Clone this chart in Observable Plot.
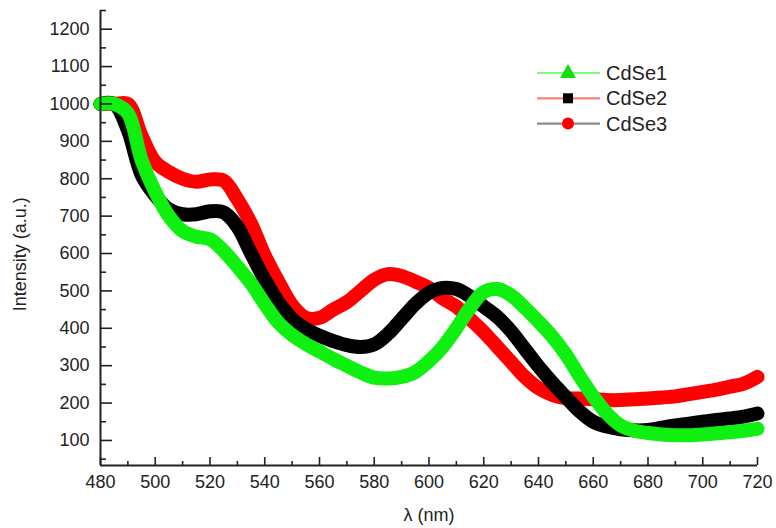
<!DOCTYPE html>
<html>
<head>
<meta charset="utf-8">
<script src="https://cdn.jsdelivr.net/npm/d3@7"></script>
<script src="https://cdn.jsdelivr.net/npm/@observablehq/plot@0.6"></script>
<style>
  html, body { margin: 0; padding: 0; background: #fff; }
  #wrap { position: relative; width: 776px; height: 528px; font-family: "Liberation Sans", Arial, sans-serif; }
  #legend { position: absolute; left: 0; top: 0; pointer-events: none; }
</style>
</head>
<body>
<div id="wrap"></div>
<script>
// Wavelength grid (nm)
const wavelength = [480,485,490,495,500,505,510,515,520,525,530,535,540,545,550,555,560,565,570,575,580,585,590,595,600,605,610,615,620,625,630,635,640,645,650,655,660,665,670,675,680,685,690,695,700,705,710,715,720];
// CdSe1 (green)
const cdse1 = [1000,1000,975,850,765,700,660,645,638,607,565,520,465,415,382,358,338,318,300,282,268,266,270,283,312,350,400,455,497,505,488,455,418,378,330,272,218,172,140,126,120,116,114,114,116,119,122,126,131];
// CdSe2 (black)
const cdse2 = [1000,1000,930,810,755,718,705,705,713,710,672,600,530,470,425,398,380,366,355,350,357,385,425,465,495,508,505,485,458,430,392,345,298,255,216,178,150,137,130,127,128,134,140,145,150,155,159,164,172];
// CdSe3 (red)
const cdse3 = [1000,1000,1000,915,845,818,800,792,798,795,745,680,595,525,462,428,428,450,470,500,530,545,540,525,508,480,458,425,390,350,310,270,240,222,213,212,210,208,208,210,212,215,218,224,230,236,244,252,270];

const seriesNames = ["CdSe1", "CdSe2", "CdSe3"];
const curveColors = ["#10f010", "#000000", "#ff0000"];
const legendLineColors = ["#7dff7d", "#ff8080", "#8c8c8c"];
const legendMarkerColors = ["#10e010", "#000000", "#ff0000"];

const xMajor = d3.range(480, 721, 20);
const xMinor = d3.range(490, 720, 20);
const yMajor = d3.range(100, 1201, 100);
const yMinor = d3.range(50, 1251, 100);

const W = 776, H = 528, mL = 100, mR = 19, mT = 10, mB = 63;
const pw = W - mL - mR, ph = H - mT - mB;

const rows = (vals, name) => wavelength.map((w, i) => ({w, v: vals[i], name}));

const chart = Plot.plot({
  width: W, height: H,
  marginLeft: mL, marginRight: mR, marginTop: mT, marginBottom: mB,
  style: { fontFamily: "Liberation Sans, Arial, sans-serif", fontSize: "18px", color: "#222", background: "#fff" },
  x: { domain: [480, 720] },
  y: { domain: [33, 1250] },
  marks: [
    Plot.line(rows(cdse3, "CdSe3"), {x: "w", y: "v", stroke: curveColors[2], strokeWidth: 14, curve: "catmull-rom"}),
    Plot.line(rows(cdse2, "CdSe2"), {x: "w", y: "v", stroke: curveColors[1], strokeWidth: 14, curve: "catmull-rom"}),
    Plot.line(rows(cdse1, "CdSe1"), {x: "w", y: "v", stroke: curveColors[0], strokeWidth: 14, curve: "catmull-rom"}),
    Plot.tickY(yMajor, {y: d => d, insetRight: pw - 12, stroke: "#222", strokeWidth: 1.6}),
    Plot.tickY(yMinor, {y: d => d, insetRight: pw - 6, stroke: "#222", strokeWidth: 1.6}),
    Plot.tickX(xMajor, {x: d => d, insetTop: ph - 8, stroke: "#222", strokeWidth: 1.6}),
    Plot.tickX(xMinor, {x: d => d, insetTop: ph - 4, stroke: "#222", strokeWidth: 1.6}),
    Plot.ruleX([480], {stroke: "#222", strokeWidth: 2}),
    Plot.ruleY([33], {stroke: "#222", strokeWidth: 2}),
    Plot.axisX({ticks: xMajor, tickSize: 0, tickPadding: 10, tickFormat: d => String(d), label: "λ (nm)", labelAnchor: "center", labelArrow: "none", labelOffset: 55}),
    Plot.axisY({ticks: yMajor, tickSize: 0, tickPadding: 11, tickFormat: d => String(d), label: null}),
    Plot.text(["Intensity (a.u.)"], {x: () => 480, y: () => 598, dx: -80, rotate: -90, fontSize: 18, fill: "#222"})
  ]
});

const wrap = document.getElementById("wrap");
wrap.appendChild(chart);

// Legend overlay
const ns = "http://www.w3.org/2000/svg";
const lg = document.createElementNS(ns, "svg");
lg.setAttribute("id", "legend");
lg.setAttribute("width", W);
lg.setAttribute("height", H);
seriesNames.forEach((name, i) => {
  const y = 73 + i * 25.3;
  const line = document.createElementNS(ns, "line");
  line.setAttribute("x1", 537); line.setAttribute("x2", 600);
  line.setAttribute("y1", y); line.setAttribute("y2", y);
  line.setAttribute("stroke", legendLineColors[i]); line.setAttribute("stroke-width", 2.2);
  lg.appendChild(line);
  let m;
  if (i === 0) {
    m = document.createElementNS(ns, "path");
    m.setAttribute("d", `M568,${y-9} L576,${y+5} L560,${y+5} Z`);
  } else if (i === 1) {
    m = document.createElementNS(ns, "rect");
    m.setAttribute("x", 563); m.setAttribute("y", y - 5);
    m.setAttribute("width", 10); m.setAttribute("height", 10);
  } else {
    m = document.createElementNS(ns, "circle");
    m.setAttribute("cx", 568); m.setAttribute("cy", y); m.setAttribute("r", 6);
  }
  m.setAttribute("fill", legendMarkerColors[i]);
  lg.appendChild(m);
  const t = document.createElementNS(ns, "text");
  t.setAttribute("x", 606); t.setAttribute("y", y);
  t.setAttribute("dy", "0.35em");
  t.setAttribute("font-size", 20);
  t.setAttribute("font-family", "Liberation Sans, Arial, sans-serif");
  t.setAttribute("fill", "#222");
  t.textContent = name;
  lg.appendChild(t);
});
wrap.appendChild(lg);
</script>
</body>
</html>
